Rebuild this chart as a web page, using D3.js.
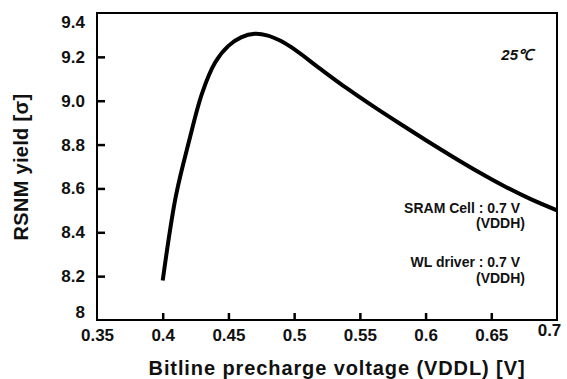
<!DOCTYPE html>
<html>
<head>
<meta charset="utf-8">
<title>RSNM yield</title>
<style>
    body { margin: 0; background: #fff; }
    svg text { font-family: "Liberation Sans", Arial, sans-serif; font-weight: bold; fill: #111; }
</style>
</head>
<body>
<svg width="567" height="379"></svg>
<script src="https://cdnjs.cloudflare.com/ajax/libs/d3/7.8.5/d3.min.js"></script>
<script>
    // valores
    const voltage = [0.40, 0.41, 0.42, 0.43, 0.44, 0.45, 0.46, 0.47, 0.48, 0.49, 0.50,
                     0.52, 0.54, 0.56, 0.58, 0.60, 0.62, 0.64, 0.66, 0.68, 0.70];
    const yieldSigma = [8.18, 8.565, 8.815, 9.035, 9.175, 9.25, 9.29, 9.305, 9.297, 9.272, 9.235,
                        9.145, 9.057, 8.975, 8.897, 8.821, 8.747, 8.676, 8.61, 8.551, 8.50];
    const xTicks = [0.35, 0.4, 0.45, 0.5, 0.55, 0.6, 0.65, 0.7];
    const xTickLabels = ["0.35", "0.4", "0.45", "0.5", "0.55", "0.6", "0.65", "0.7"];
    const yTicks = [8, 8.2, 8.4, 8.6, 8.8, 9.0, 9.2, 9.4];
    const yTickLabels = ["8", "8.2", "8.4", "8.6", "8.8", "9.0", "9.2", "9.4"];
    const notes = ["SRAM Cell : 0.7 V", "(VDDH)", "WL driver : 0.7 V", "(VDDH)"];

    const svg = d3.select("svg");
    const margin = { left: 97, right: 10, top: 13, bottom: 59 };
    const W = 567, H = 379;

    const x = d3.scaleLinear().domain([0.35, 0.7]).range([margin.left, W - margin.right]);
    const y = d3.scaleLinear().domain([8, 9.4]).range([H - margin.bottom, margin.top]);

    // marco
    svg.append("rect")
        .attr("x", x(0.35)).attr("y", y(9.4))
        .attr("width", x(0.7) - x(0.35)).attr("height", y(8) - y(9.4))
        .attr("fill", "none").attr("stroke", "#000").attr("stroke-width", 2);

    // eje x
    const gx = svg.append("g")
        .attr("transform", "translate(0," + y(8) + ")")
        .call(d3.axisBottom(x).tickValues(xTicks)
            .tickFormat((d, i) => xTickLabels[i])
            .tickSizeInner(-7).tickSizeOuter(0).tickPadding(9));
    gx.select(".domain").remove();
    gx.selectAll(".tick line").attr("stroke", "#000").attr("stroke-width", 2.5);
    gx.selectAll(".tick text").attr("font-size", 17);
    gx.selectAll(".tick text").filter(d => d === 0.7).attr("dx", -8).attr("dy", "0.42em");
    gx.selectAll(".tick").filter(d => d === 0.35 || d === 0.7).select("line").remove();

    // eje y
    const gy = svg.append("g")
        .attr("transform", "translate(" + x(0.35) + ",0)")
        .call(d3.axisLeft(y).tickValues(yTicks)
            .tickFormat((d, i) => yTickLabels[i])
            .tickSizeInner(-8).tickSizeOuter(0).tickPadding(12));
    gy.select(".domain").remove();
    gy.selectAll(".tick line").attr("stroke", "#000").attr("stroke-width", 2.5);
    gy.selectAll(".tick text").attr("font-size", 17);
    gy.selectAll(".tick text").filter(d => d === 9.4).attr("dy", "0.85em");
    gy.selectAll(".tick text").filter(d => d === 8).attr("dy", "-0.15em");
    gy.selectAll(".tick").filter(d => d === 8 || d === 9.4).select("line").remove();

    // curva
    const pts = voltage.map((v, i) => [v, yieldSigma[i]]);
    svg.append("path")
        .datum(pts)
        .attr("fill", "none").attr("stroke", "#000").attr("stroke-width", 4)
        .attr("stroke-linejoin", "round")
        .attr("d", d3.line().x(d => x(d[0])).y(d => y(d[1])).curve(d3.curveCatmullRom.alpha(0.5)));

    // titulos
    svg.append("text")
        .attr("x", 337).attr("y", 375)
        .attr("text-anchor", "middle").attr("font-size", 20)
        .attr("letter-spacing", 0.9)
        .text("Bitline precharge voltage (VDDL) [V]");
    svg.append("text")
        .attr("transform", "translate(28,167) rotate(-90)")
        .attr("text-anchor", "middle").attr("font-size", 20)
        .attr("letter-spacing", 0.3)
        .text("RSNM yield [σ]");

    // anotaciones
    svg.append("text")
        .attr("x", 533).attr("y", 60)
        .attr("text-anchor", "end").attr("font-size", 15).attr("font-style", "italic")
        .text("25℃");
    const noteX = [520, 525, 520, 525];
    const noteY = [213, 228, 267, 283];
    notes.forEach((t, i) => {
        svg.append("text")
            .attr("x", noteX[i]).attr("y", noteY[i])
            .attr("text-anchor", "end").attr("font-size", 14)
            .text(t);
    });
</script>
</body>
</html>
